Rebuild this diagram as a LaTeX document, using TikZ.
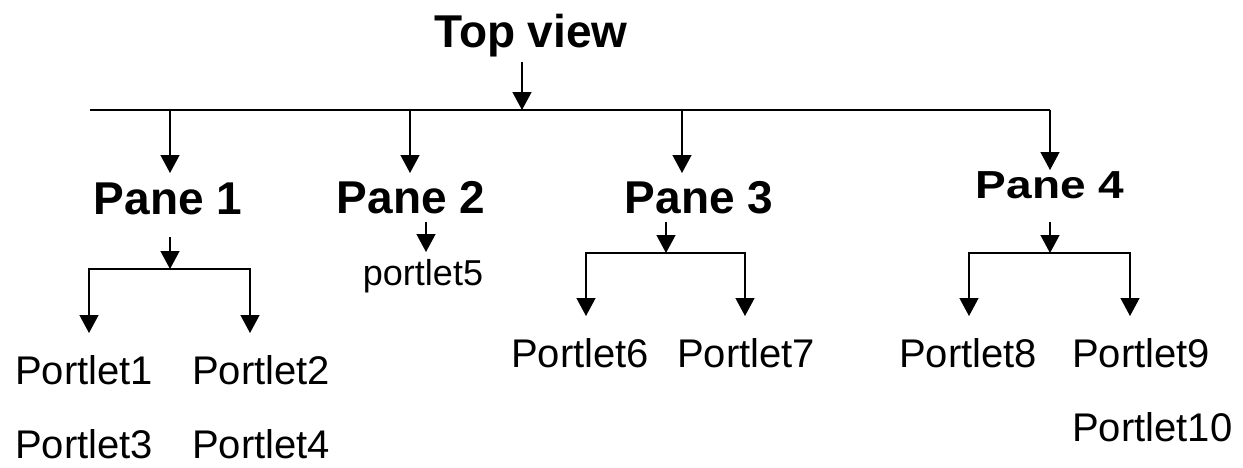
\documentclass[tikz,border=0pt]{standalone}
\usepackage{fontspec}
\setmainfont{Liberation Sans}
\usetikzlibrary{arrows.meta}
\tikzset{
  head/.style={font=\fontsize{46}{52}\selectfont\bfseries, inner sep=0pt, anchor=base},
  leaf/.style={font=\fontsize{40}{48}\selectfont, inner sep=0pt, anchor=base west},
  wire/.style={line width=1.4pt},
  link/.style={wire, -{Triangle[width=19pt,length=18pt]}},
  fork/.style={wire, {Triangle[width=19pt,length=18pt]}-{Triangle[width=19pt,length=18pt]}}
}
\begin{document}
\begin{tikzpicture}[x=1pt,y=-1pt]
\useasboundingbox (0,0) rectangle (1243,467);
% headings
\node[head] (top) at (531,47) {Top view};
\node[head] (pane1) at (168,214) {Pane 1};
\node[head] (pane2) at (411,213) {Pane 2};
\node[head] (pane3) at (699,213) {Pane 3};
\node[head] (pane4) at (1050,198) {\scalebox{1}[0.85]{Pane 4}};
% portlets
\node[font=\fontsize{36}{42}\selectfont, inner sep=0pt, anchor=base] (p5) at (423,285) {portlet5};
\node[leaf] (p1) at (15,384) {Portlet1};
\node[leaf] (p2) at (192,384) {Portlet2};
\node[leaf] (p3) at (15,458) {Portlet3};
\node[leaf] (p4) at (192,458) {Portlet4};
\node[leaf] (p6) at (511,367) {Portlet6};
\node[leaf] (p7) at (677,367) {Portlet7};
\node[leaf] (p8) at (899,367) {Portlet8};
\node[leaf] (p9) at (1072,367) {Portlet9};
\node[leaf] (p10) at (1072,441) {Portlet10};
% top bus
\coordinate (t0) at (522,62);
\coordinate (t1) at (522,110);
\coordinate (bl) at (90,110);
\coordinate (br) at (1050,110);
\draw[link] (t0) -- (t1);
\draw[wire] (bl) -- (br);
\draw[link] (170,110) -- (170,173);
\draw[link] (410,110) -- (410,173);
\draw[link] (682,110) -- (682,173);
\draw[link] (br) -- (1050,170);
% pane 1
\draw[link] (170,237) -- (170,269);
\draw[fork] (89,333) -- (89,269) -- (250,269) -- (250,333);
% pane 2
\draw[link] (426,222) -- (426,252);
% pane 3
\draw[link] (666,222) -- (666,253);
\draw[fork] (586,316) -- (586,253) -- (745,253) -- (745,316);
% pane 4
\draw[link] (1050,222) -- (1050,253);
\draw[fork] (969,316) -- (969,253) -- (1130,253) -- (1130,316);
\end{tikzpicture}
\end{document}
